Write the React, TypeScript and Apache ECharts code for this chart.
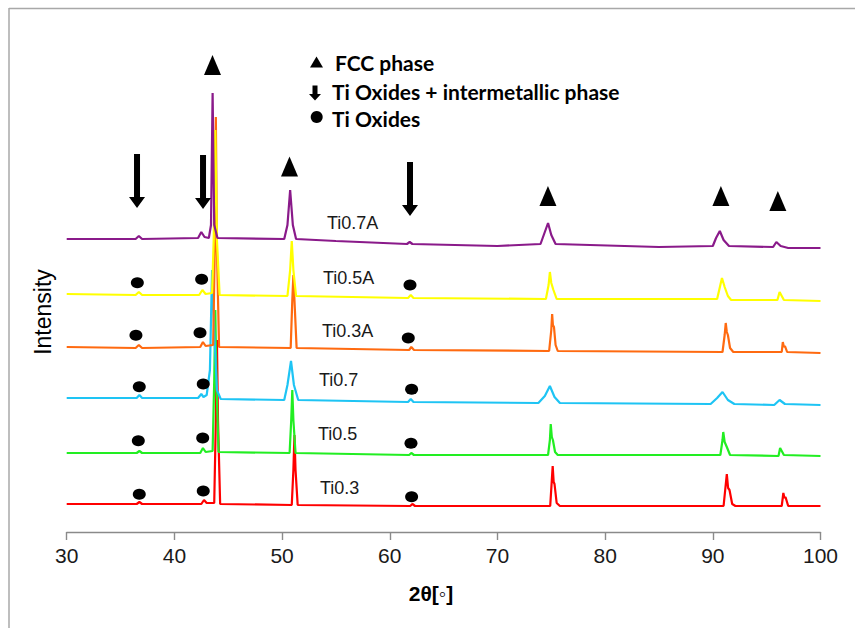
import React, { useEffect, useRef } from "react";
import * as echarts from "echarts";

// 2θ tick settings
const X_MIN = 30;
const X_MAX = 100;
const X_STEP = 10;

// Stacked XRD patterns, [2θ (deg), intensity (a.u., offset for stacking)]
const ti03: number[][] = [
  [30, 28], [36.5, 28], [36.75, 30], [37.0, 28], [42.5, 28], [42.75, 32], [43.0, 29], [43.7, 29],
  [43.85, 112], [43.95, 192], [44.05, 112], [44.25, 28], [50.9, 27], [51.05, 62], [51.15, 97],
  [51.25, 62], [51.45, 27], [61.9, 26], [62.1, 28], [62.35, 26], [74.9, 26], [75.05, 52],
  [75.13, 66], [75.22, 50], [75.3, 48], [75.5, 29], [75.8, 26], [91.0, 26], [91.15, 42],
  [91.3, 58], [91.42, 44], [91.55, 42], [91.8, 28], [92.1, 26], [96.4, 26], [96.55, 39],
  [96.65, 34], [96.75, 35], [97.0, 26], [100, 26],
];
const ti05: number[][] = [
  [30, 79], [36.5, 79], [36.75, 81], [37.0, 79], [42.4, 79], [42.65, 84], [42.9, 80], [43.55, 81],
  [43.7, 152], [43.8, 222], [43.9, 152], [44.1, 80], [50.7, 79], [50.85, 112], [50.95, 142],
  [51.05, 112], [51.25, 79], [61.8, 77], [62.0, 79], [62.25, 77], [74.7, 77], [74.87, 92],
  [74.95, 108], [75.05, 95], [75.15, 92], [75.35, 80], [75.6, 77], [90.7, 77], [90.9, 92],
  [90.97, 100], [91.1, 90], [91.3, 85], [91.6, 77], [96.1, 76], [96.25, 84], [96.4, 81],
  [96.6, 77], [100, 76],
];
const ti07: number[][] = [
  [30, 134], [36.5, 134], [36.75, 137], [37.0, 134], [42.2, 134], [42.5, 138], [42.7, 135],
  [43.0, 137], [43.3, 162], [43.5, 262], [43.7, 200], [43.95, 142], [44.3, 133], [50.2, 132],
  [50.5, 147], [50.83, 171], [51.1, 147], [51.5, 132], [61.7, 130], [61.95, 133], [62.2, 130],
  [73.8, 129], [74.4, 136], [74.87, 146], [75.3, 135], [75.8, 129], [89.8, 128], [90.4, 134],
  [90.9, 140], [91.4, 132], [92.0, 128], [95.7, 127], [96.2, 132], [96.7, 128], [100, 127],
];
const ti03A: number[][] = [
  [30, 185], [36.4, 184], [36.7, 187], [37.0, 184], [42.4, 185], [42.65, 190], [42.9, 186],
  [43.6, 187], [43.75, 282], [43.85, 415], [43.95, 282], [44.15, 185], [50.8, 184], [50.95, 232],
  [51.05, 257], [51.15, 232], [51.35, 184], [61.8, 182], [62.0, 185], [62.25, 182], [74.8, 181],
  [75.0, 202], [75.08, 218], [75.15, 207], [75.25, 205], [75.4, 187], [75.6, 181], [90.9, 180],
  [91.1, 197], [91.2, 209], [91.3, 200], [91.4, 197], [91.6, 184], [91.9, 180], [96.4, 180],
  [96.5, 190], [96.6, 185], [96.7, 186], [96.9, 180], [100, 179],
];
const ti05A: number[][] = [
  [30, 238], [36.4, 237], [36.7, 240], [37.0, 237], [42.3, 237], [42.6, 242], [42.9, 238],
  [43.5, 239], [43.65, 292], [43.8, 402], [43.95, 292], [44.2, 237], [50.5, 236], [50.75, 262],
  [50.9, 291], [51.05, 262], [51.3, 236], [61.7, 234], [61.95, 237], [62.2, 234], [74.5, 233],
  [74.75, 247], [74.87, 260], [75.0, 249], [75.2, 242], [75.5, 233], [90.4, 233], [90.7, 247],
  [90.85, 254], [91.1, 245], [91.4, 236], [91.7, 232], [96.0, 232], [96.2, 240], [96.35, 237],
  [96.6, 232], [100, 231],
];
const ti07A: number[][] = [
  [30, 293], [36.4, 293], [36.7, 296], [37.0, 293], [42.2, 294], [42.5, 300], [42.8, 295],
  [43.2, 294], [43.4, 307], [43.55, 439], [43.7, 307], [44.0, 294], [50.2, 293], [50.5, 307],
  [50.75, 342], [51.0, 307], [51.3, 293], [55, 291], [61.6, 288], [61.85, 290], [62.1, 288],
  [70, 286], [74.0, 288], [74.4, 300], [74.7, 309], [75.0, 297], [75.4, 288], [85, 285],
  [90.0, 286], [90.3, 294], [90.65, 301], [91.0, 292], [91.5, 286], [95.6, 285], [95.9, 290],
  [96.3, 286], [97, 284], [100, 284],
];

const seriesNames = ["Ti0.3", "Ti0.5", "Ti0.7", "Ti0.3A", "Ti0.5A", "Ti0.7A"];
const seriesData = [ti03, ti05, ti07, ti03A, ti05A, ti07A];
const seriesColors = ["#ff0000", "#22ee22", "#1ec4f4", "#ff6a10", "#ffff00", "#8a1a8a"];

// Phase markers [2θ, intensity position]
const fccMarks: number[][] = [[43.54, 467], [50.69, 365.5], [74.69, 336], [90.75, 336], [96.04, 331]];
const arrowMarks: number[][] = [[36.53, 351], [42.66, 350], [61.88, 343]];
const oxideMarks: number[][] = [
  [36.56, 249.3], [42.53, 252.7], [61.88, 247],
  [36.43, 196.7], [42.38, 199.3], [61.72, 194],
  [36.74, 145.3], [42.68, 148], [62.03, 142.7],
  [36.65, 91.3], [42.63, 94], [61.97, 88.7],
  [36.74, 37.7], [42.68, 41], [62.03, 35.3],
];

const legendLabels = ["FCC phase", "Ti Oxides + intermetallic phase", "Ti Oxides"];
const sampleLabels = ["Ti0.7A", "Ti0.5A", "Ti0.3A", "Ti0.7", "Ti0.5", "Ti0.3"];
const xTitle = "2θ[◦]";
const yTitle = "Intensity";

export default function App() {
  const ref = useRef<HTMLDivElement>(null);
  useEffect(() => {
    if (!ref.current) return;
    const chart = echarts.init(ref.current, null, { renderer: "svg" });
    const arrowPath = "path://M5,0 L11,0 L11,43 L16,43 L8,54 L0,43 L5,43 Z";
    const labelPos = [
      [327, 223], [323, 278], [322, 331], [319, 380], [318, 434], [320, 488],
    ];
    const legendY = [62, 91, 118];
    const legendX = [335, 332, 332];
    const textFont = "Liberation Sans, Arial, sans-serif";
    const legendFont = "Lato, 'Open Sans', sans-serif";

    const lineSeries = seriesData.map((d, i) => ({
      name: seriesNames[i],
      type: "line",
      data: d,
      showSymbol: false,
      symbol: "none",
      lineStyle: { color: seriesColors[i], width: 2.2 },
      itemStyle: { color: seriesColors[i] },
      z: 2 + i,
      silent: true,
    }));

    const markStyle = { color: "#000", opacity: 1 };

    chart.setOption({
      animation: false,
      backgroundColor: "#ffffff",
      grid: { left: 66.7, right: 34.5, top: 22, bottom: 96 },
      xAxis: {
        type: "value",
        min: X_MIN,
        max: X_MAX,
        interval: X_STEP,
        axisLine: { lineStyle: { color: "#8a8a8a", width: 1.4 } },
        axisTick: { show: true, length: 8, lineStyle: { color: "#8a8a8a", width: 1.4 } },
        axisLabel: { fontSize: 21, fontFamily: textFont, color: "#1a1a1a", margin: 13 },
        splitLine: { show: false },
      },
      yAxis: { type: "value", min: 0, max: 510, show: false },
      series: [
        ...lineSeries,
        {
          type: "scatter",
          data: fccMarks,
          symbol: "triangle",
          symbolSize: [17, 20],
          itemStyle: markStyle,
          z: 20,
          silent: true,
        },
        {
          type: "scatter",
          data: arrowMarks,
          symbol: arrowPath,
          symbolSize: [16, 54],
          itemStyle: markStyle,
          z: 20,
          silent: true,
        },
        {
          type: "scatter",
          data: oxideMarks,
          symbol: "circle",
          symbolSize: [13, 11],
          itemStyle: markStyle,
          z: 20,
          silent: true,
        },
      ],
      graphic: [
        { type: "line", shape: { x1: 9, y1: 8.5, x2: 860, y2: 8.5 }, style: { stroke: "#a8a8a8", lineWidth: 1.5 } },
        { type: "line", shape: { x1: 9, y1: 8, x2: 9, y2: 640 }, style: { stroke: "#a8a8a8", lineWidth: 1.5 } },
        {
          type: "text",
          x: 43,
          y: 312,
          rotation: Math.PI / 2,
          style: {
            text: yTitle, x: 0, y: 0, fontSize: 23, fontFamily: textFont, fill: "#000",
            align: "center", verticalAlign: "middle", textAlign: "center", textVerticalAlign: "middle",
          },
        },
        {
          type: "text",
          style: {
            text: xTitle, x: 431, y: 593, fontSize: 21, fontWeight: "bold", fontFamily: textFont, fill: "#000",
            align: "center", verticalAlign: "middle", textAlign: "center", textVerticalAlign: "middle",
          },
        },
        ...sampleLabels.map((t, i) => ({
          type: "text",
          style: {
            text: t, x: labelPos[i][0], y: labelPos[i][1], fontSize: 18, fontFamily: textFont, fill: "#1a1a1a",
            align: "left", verticalAlign: "middle", textAlign: "left", textVerticalAlign: "middle",
          },
          z: 30,
        })),
        { type: "polygon", shape: { points: [[310, 67.5], [323, 67.5], [316.5, 56.5]] }, style: { fill: "#000" } },
        {
          type: "polygon",
          shape: { points: [[312.5, 85.5], [317.5, 85.5], [317.5, 94], [321, 94], [315, 100.5], [309, 94], [312.5, 94]] },
          style: { fill: "#000" },
        },
        { type: "circle", shape: { cx: 316.7, cy: 117, r: 6 }, style: { fill: "#000" } },
        ...legendLabels.map((t, i) => ({
          type: "text",
          style: {
            text: t, x: legendX[i], y: legendY[i], fontSize: 21, fontWeight: "bold", fontFamily: legendFont, fill: "#000",
            align: "left", verticalAlign: "middle", textAlign: "left", textVerticalAlign: "middle",
          },
        })),
      ],
    });
    return () => chart.dispose();
  }, []);
  return (
    <div
      ref={ref}
      style={{ position: "fixed", left: 0, top: 0, width: 855, height: 628, background: "#fff" }}
    />
  );
}
